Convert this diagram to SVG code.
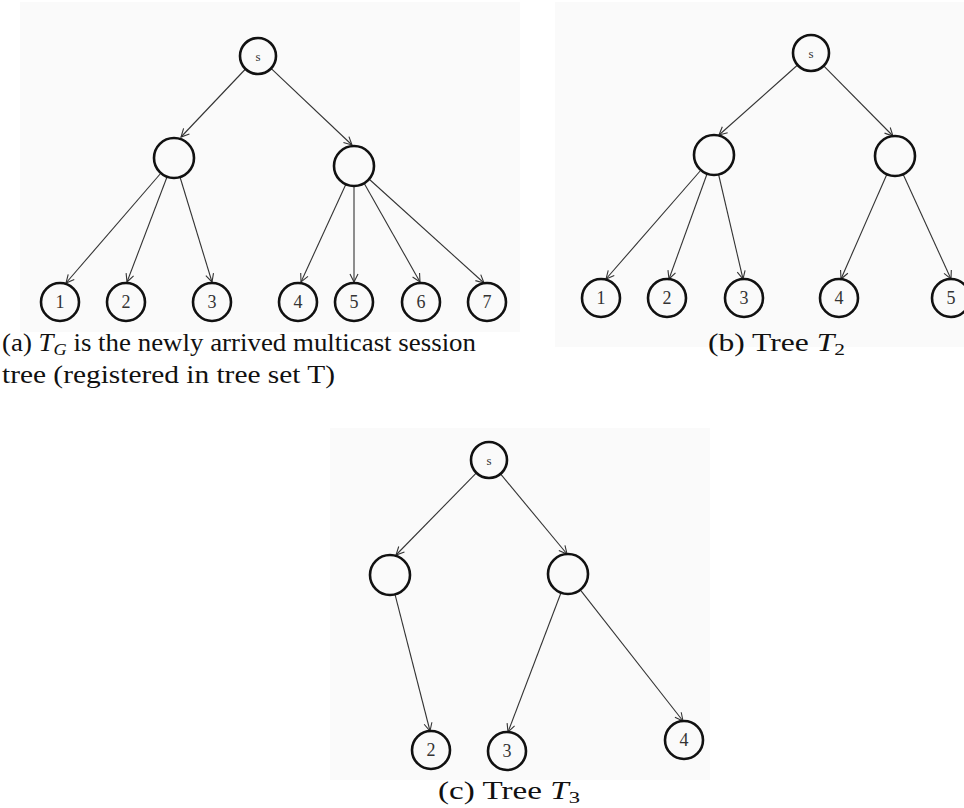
<svg xmlns="http://www.w3.org/2000/svg" width="964" height="808" viewBox="0 0 964 808">
<style>
.bg{fill:#fafafa}
.n{fill:none;stroke:#111;stroke-width:2.6}
.e{stroke:#333;stroke-width:1.1;fill:none;marker-end:url(#ah)}
.lbl{font-family:"Liberation Serif","Times New Roman",serif;font-size:18px;fill:#333;text-anchor:middle}
.ls{font-size:13px}
.cap{font-family:"Liberation Serif","Times New Roman",serif;font-size:25px;fill:#111}
</style>
<defs>
<marker id="ah" markerWidth="12" markerHeight="12" refX="9" refY="5" orient="auto" markerUnits="userSpaceOnUse">
<path d="M1,1 L9,5 L1,9" fill="none" stroke="#333" stroke-width="1.1"/>
</marker>
</defs>
<rect width="964" height="808" fill="#fff"/>
<rect class="bg" x="20" y="2" width="500" height="330"/>
<rect class="bg" x="555" y="2" width="409" height="345"/>
<rect class="bg" x="330" y="428" width="380" height="352"/>

<g id="connectors">
<line class="e" x1="245.5" y1="69" x2="181" y2="137"/>
<line class="e" x1="271" y1="68.4" x2="352" y2="145"/>
<line class="e" x1="161" y1="173" x2="66" y2="283"/>
<line class="e" x1="167" y1="177" x2="127" y2="282"/>
<line class="e" x1="180" y1="177" x2="212" y2="282"/>
<line class="e" x1="346" y1="184" x2="301" y2="282"/>
<line class="e" x1="354" y1="186" x2="354" y2="282"/>
<line class="e" x1="364" y1="183" x2="420" y2="282"/>
<line class="e" x1="369" y1="179" x2="484" y2="283"/>

<line class="e" x1="797.6" y1="65" x2="719" y2="135"/>
<line class="e" x1="823.7" y1="65.8" x2="893" y2="136"/>
<line class="e" x1="701" y1="170" x2="606" y2="279"/>
<line class="e" x1="707" y1="174" x2="669" y2="279"/>
<line class="e" x1="718.6" y1="174.5" x2="743" y2="279"/>
<line class="e" x1="887" y1="174" x2="841" y2="279"/>
<line class="e" x1="903" y1="174" x2="951" y2="279"/>

<line class="e" x1="476.4" y1="472.9" x2="396" y2="555"/>
<line class="e" x1="500.5" y1="473.9" x2="567" y2="554"/>
<line class="e" x1="395" y1="594.4" x2="430" y2="731"/>
<line class="e" x1="561" y1="592.7" x2="508" y2="732"/>
<line class="e" x1="580.3" y1="589.8" x2="683" y2="721"/>
</g>

<g id="a-s"><circle class="n" cx="258" cy="56" r="18"/><text class="lbl ls" x="258" y="61">s</text></g>
<g id="a-l"><circle class="n" cx="174" cy="158" r="20"/></g>
<g id="a-r"><circle class="n" cx="354" cy="166" r="20"/></g>
<g id="a-1"><circle class="n" cx="60" cy="302" r="19"/><text class="lbl" x="60" y="308">1</text></g>
<g id="a-2"><circle class="n" cx="126" cy="302" r="19"/><text class="lbl" x="126" y="308">2</text></g>
<g id="a-3"><circle class="n" cx="212" cy="302" r="19"/><text class="lbl" x="212" y="308">3</text></g>
<g id="a-4"><circle class="n" cx="298" cy="302" r="19"/><text class="lbl" x="298" y="308">4</text></g>
<g id="a-5"><circle class="n" cx="354" cy="302" r="19"/><text class="lbl" x="354" y="308">5</text></g>
<g id="a-6"><circle class="n" cx="421" cy="302" r="19"/><text class="lbl" x="421" y="308">6</text></g>
<g id="a-7"><circle class="n" cx="487" cy="302" r="19"/><text class="lbl" x="487" y="308">7</text></g>

<g id="b-s"><circle class="n" cx="811" cy="53" r="18"/><text class="lbl ls" x="811" y="58">s</text></g>
<g id="b-l"><circle class="n" cx="714" cy="155" r="20"/></g>
<g id="b-r"><circle class="n" cx="895" cy="156" r="20"/></g>
<g id="b-1"><circle class="n" cx="601" cy="298" r="19"/><text class="lbl" x="601" y="304">1</text></g>
<g id="b-2"><circle class="n" cx="667" cy="298" r="19"/><text class="lbl" x="667" y="304">2</text></g>
<g id="b-3"><circle class="n" cx="744" cy="298" r="19"/><text class="lbl" x="744" y="304">3</text></g>
<g id="b-4"><circle class="n" cx="839" cy="298" r="19"/><text class="lbl" x="839" y="304">4</text></g>
<g id="b-5"><circle class="n" cx="951" cy="298" r="19"/><text class="lbl" x="951" y="304">5</text></g>

<g id="c-s"><circle class="n" cx="489" cy="460" r="18"/><text class="lbl ls" x="489" y="465">s</text></g>
<g id="c-l"><circle class="n" cx="390" cy="575" r="20"/></g>
<g id="c-r"><circle class="n" cx="568" cy="574" r="20"/></g>
<g id="c-2"><circle class="n" cx="431" cy="750" r="19"/><text class="lbl" x="431" y="756">2</text></g>
<g id="c-3"><circle class="n" cx="507" cy="751" r="19"/><text class="lbl" x="507" y="757">3</text></g>
<g id="c-4"><circle class="n" cx="684" cy="740" r="19"/><text class="lbl" x="684" y="746">4</text></g>

<g id="captions">
<text class="cap" x="2" y="351" textLength="474" lengthAdjust="spacingAndGlyphs">(a) <tspan font-style="italic">T</tspan><tspan font-style="italic" font-size="17" dy="4">G</tspan><tspan dy="-4"> is the newly arrived multicast session</tspan></text>
<text class="cap" x="2" y="383" textLength="333" lengthAdjust="spacingAndGlyphs">tree (registered in tree set T)</text>
<text class="cap" x="708" y="351" textLength="137" lengthAdjust="spacingAndGlyphs">(b) Tree <tspan font-style="italic">T</tspan><tspan font-size="17" dy="4">2</tspan></text>
<text class="cap" x="438" y="799" textLength="142" lengthAdjust="spacingAndGlyphs">(c) Tree <tspan font-style="italic">T</tspan><tspan font-size="17" dy="4">3</tspan></text>
</g>
</svg>
